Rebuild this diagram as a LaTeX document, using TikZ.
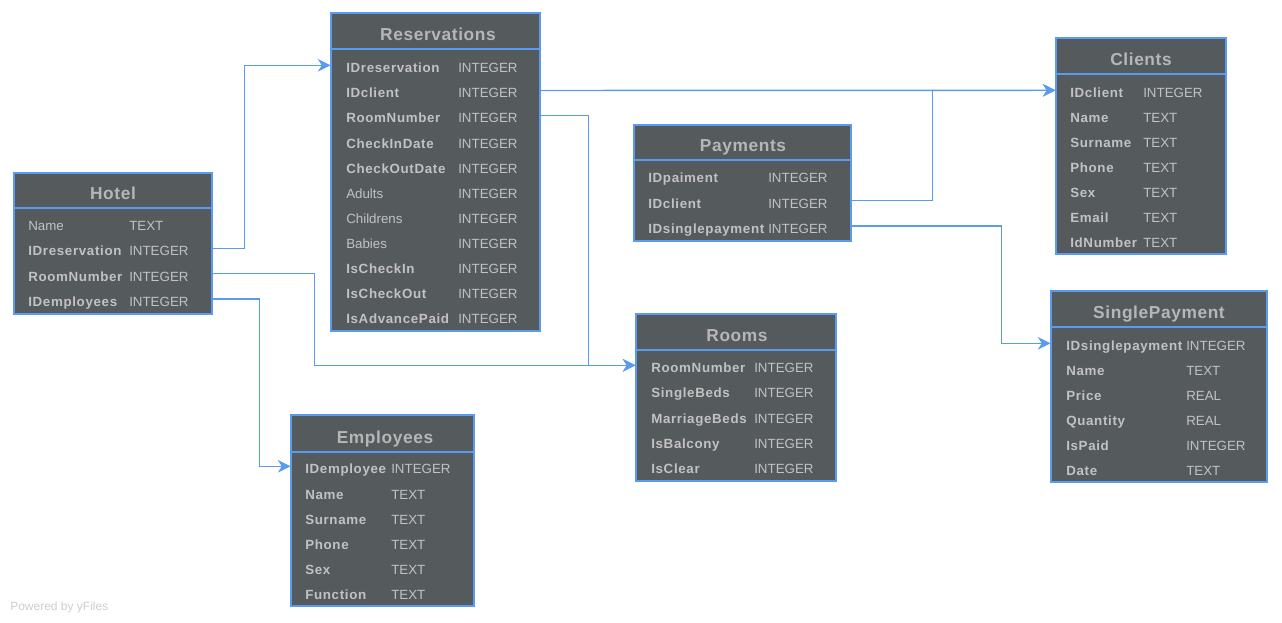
\documentclass[tikz,border=0pt]{standalone}
\usepackage{fontspec}
\setmainfont{Liberation Sans}[BoldFeatures={LetterSpace=5}]
\newfontfamily\ttlfont{Liberation Sans}[BoldFeatures={LetterSpace=3.5}]
\usetikzlibrary{arrows.meta}
\definecolor{tfill}{HTML}{555A5D}
\definecolor{tline}{HTML}{5A9BF2}
\definecolor{ttext}{HTML}{C2C2C2}
\definecolor{ttitle}{HTML}{B6B6B6}
\definecolor{foot}{HTML}{CDCDCD}
\newcommand\B{\bfseries}
\newcommand\mktable[6]{%
  \node[tbl, minimum width={(#4-#2)*0.75pt}, minimum height={(#5-#3)*0.75pt}] (#1) at ({(#2+#4)/2},{(#3+#5)/2}) {};
  \draw[sep] (#2,#6) -- (#4,#6);
}
\begin{document}
\begin{tikzpicture}[x=0.75pt,y=-0.75pt,
  tbl/.style={draw=tline, fill=tfill, line width=0.8pt, inner sep=0pt, anchor=center},
  sep/.style={draw=tline, line width=0.8pt},
  ttl/.style={font=\ttlfont\fontsize{13}{15}\selectfont\bfseries, text=ttitle, inner sep=0pt, text height=9.3pt, text depth=0pt, anchor=center},
  fld/.style={font=\fontsize{10}{12}\selectfont, text=ttext, inner sep=0pt, text height=7.2pt, text depth=0pt, anchor=west},
  conn/.style={draw=tline, line width=1pt, -{Stealth[length=9.5pt, width=9.5pt, inset=3pt]}}
]
\useasboundingbox (0,0) rectangle (1282,623);

% Hotel
\mktable{hotel}{14}{173}{212}{314}{208}
\node[ttl] (hotel-t) at (113,193) {Hotel};
\foreach \n/\t [count=\i] in {Name/TEXT, {\B IDreservation}/INTEGER, {\B RoomNumber}/INTEGER, {\B IDemployees}/INTEGER}{
  \node[fld] (hotel-\i) at (28,{226+25.2*(\i-1)}) {\n};
  \node[fld] (hotel-\i t) at (129,{226+25.2*(\i-1)}) {\t};
}

% Reservations
\mktable{res}{331}{13}{540}{331}{49}
\node[ttl] (res-t) at (438,34) {Reservations};
\foreach \n/\t [count=\i] in {{\B IDreservation}/INTEGER, {\B IDclient}/INTEGER, {\B RoomNumber}/INTEGER, {\B CheckInDate}/INTEGER, {\B CheckOutDate}/INTEGER, Adults/INTEGER, Childrens/INTEGER, Babies/INTEGER, {\B IsCheckIn}/INTEGER, {\B IsCheckOut}/INTEGER, {\B IsAdvancePaid}/INTEGER}{
  \node[fld] (res-\i) at (346,{68+25.1*(\i-1)}) {\n};
  \node[fld] (res-\i t) at (458,{68+25.1*(\i-1)}) {\t};
}

% Payments
\mktable{pay}{634}{125}{851}{241}{160}
\node[ttl] (pay-t) at (743,145) {Payments};
\foreach \n/\t [count=\i] in {{\B IDpaiment}/INTEGER, {\B IDclient}/INTEGER, {\B IDsinglepayment}/INTEGER}{
  \node[fld] (pay-\i) at (648,{178+25.4*(\i-1)}) {\n};
  \node[fld] (pay-\i t) at (768,{178+25.4*(\i-1)}) {\t};
}

% Clients
\mktable{cli}{1056}{38}{1226}{254}{74}
\node[ttl] (cli-t) at (1141,59) {Clients};
\foreach \n/\t [count=\i] in {{\B IDclient}/INTEGER, {\B Name}/TEXT, {\B Surname}/TEXT, {\B Phone}/TEXT, {\B Sex}/TEXT, {\B Email}/TEXT, {\B IdNumber}/TEXT}{
  \node[fld] (cli-\i) at (1070,{93+25*(\i-1)}) {\n};
  \node[fld] (cli-\i t) at (1143,{93+25*(\i-1)}) {\t};
}

% Employees
\mktable{emp}{291}{415}{474}{606}{452}
\node[ttl] (emp-t) at (385,437) {Employees};
\foreach \n/\t [count=\i] in {{\B IDemployee}/INTEGER, {\B Name}/TEXT, {\B Surname}/TEXT, {\B Phone}/TEXT, {\B Sex}/TEXT, {\B Function}/TEXT}{
  \node[fld] (emp-\i) at (305,{469+25.2*(\i-1)}) {\n};
  \node[fld] (emp-\i t) at (391,{469+25.2*(\i-1)}) {\t};
}

% Rooms
\mktable{rooms}{636}{314}{836}{481}{350}
\node[ttl] (rooms-t) at (737,335) {Rooms};
\foreach \n/\t [count=\i] in {{\B RoomNumber}/INTEGER, {\B SingleBeds}/INTEGER, {\B MarriageBeds}/INTEGER, {\B IsBalcony}/INTEGER, {\B IsClear}/INTEGER}{
  \node[fld] (rooms-\i) at (651,{368+25.2*(\i-1)}) {\n};
  \node[fld] (rooms-\i t) at (754,{368+25.2*(\i-1)}) {\t};
}

% SinglePayment
\mktable{sp}{1051}{291}{1267}{482}{327}
\node[ttl] (sp-t) at (1159,312) {SinglePayment};
\foreach \n/\t [count=\i] in {{\B IDsinglepayment}/INTEGER, {\B Name}/TEXT, {\B Price}/REAL, {\B Quantity}/REAL, {\B IsPaid}/INTEGER, {\B Date}/TEXT}{
  \node[fld] (sp-\i) at (1066,{346+25*(\i-1)}) {\n};
  \node[fld] (sp-\i t) at (1186,{346+25*(\i-1)}) {\t};
}

% connectors
\draw[conn] ([yshift=2pt]hotel.east |- hotel-2) -- ++(32,0) |- ([yshift=2pt]res.west |- res-1);
\draw[conn] ([yshift=2pt]hotel.east |- hotel-3) -- ++(102,0) |- ([yshift=2pt]rooms.west |- rooms-1);
\draw[conn] ([yshift=2pt]res.east |- res-3) -- ++(48,0) |- ([yshift=2pt]rooms.west |- rooms-1);
\draw[conn] ([yshift=2pt]hotel.east |- hotel-4) -- ++(47,0) |- ([yshift=2pt]emp.west |- emp-1);
\draw[conn] ([yshift=2pt]res.east |- res-2) -- ([yshift=2pt]cli.west |- cli-1);
\draw[conn] ([yshift=2pt]pay.east |- pay-2) -- ++(81,0) |- ([yshift=2pt]cli.west |- cli-1);
\draw[conn] ([yshift=2pt]pay.east |- pay-3) -- ++(150,0) |- ([yshift=2pt]sp.west |- sp-1);

\node[anchor=west, inner sep=0pt, font=\fontsize{9}{11}\selectfont, text=foot] (powered) at (10,607) {Powered by yFiles};
\end{tikzpicture}
\end{document}
